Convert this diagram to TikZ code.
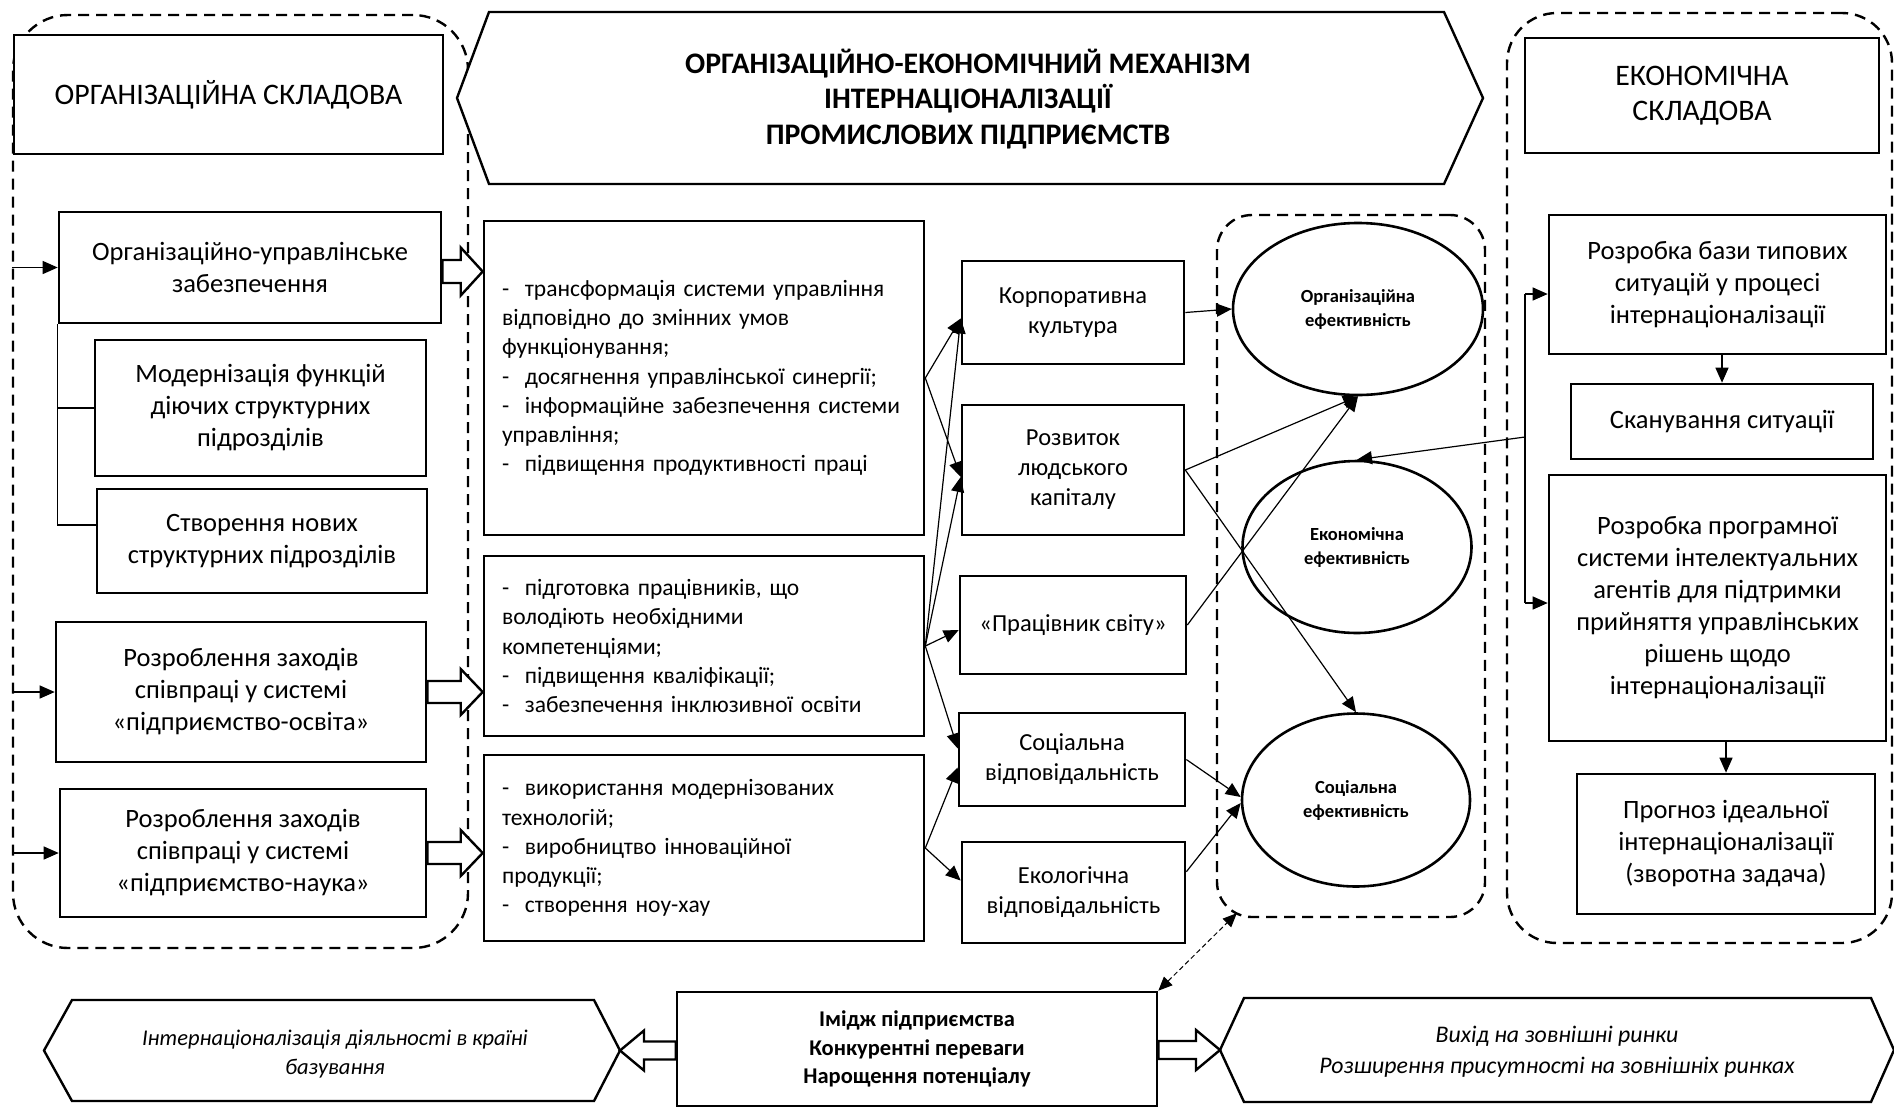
\documentclass[tikz,border=0pt]{standalone}
\usepackage{fontspec}
\setmainfont{Carlito}
\usetikzlibrary{arrows.meta,shapes.geometric,calc}

\newcommand\blockarrow[5]{%
  \draw[blockarr] let \p1=(#1), \p2=(#2), \n1={ifthenelse(\x2>\x1,1,-1)} in
    (\x1,{\y2+(#3)}) -- ({\x2-\n1*(#5)},{\y2+(#3)}) -- ({\x2-\n1*(#5)},{\y2+(#4)}) --
    (\x2,\y2) -- ({\x2-\n1*(#5)},{\y2-(#4)}) -- ({\x2-\n1*(#5)},{\y2-(#3)}) --
    (\x1,{\y2-(#3)}) -- cycle;}

\begin{document}
\begin{tikzpicture}[x=1pt,y=-1pt,
  box/.style={draw,fill=white,line width=2.6pt,inner sep=0pt,align=center,font=\fontsize{26.5}{32}\selectfont},
  headbox/.style={box,font=\fontsize{29.8}{35}\selectfont},
  listbox/.style={draw,fill=white,line width=2.6pt,inner sep=0pt,align=left,text width=404pt,font=\fontsize{23.5}{29.2}\selectfont},
  smallbox/.style={box,font=\fontsize{24.5}{30}\selectfont},
  eff/.style={draw,ellipse,line width=2.6pt,inner sep=0pt,align=center,font=\bfseries\fontsize{18.5}{24}\selectfont},
  cont/.style={draw,dash pattern=on 11pt off 7pt,line width=2.4pt,inner sep=0pt},
  conn/.style={line width=1.2pt,-{Triangle[length=15pt,width=13pt]}},
  thin/.style={line width=1.2pt},
  blockarr/.style={line width=2.4pt,fill=white,line join=miter},
  hexa/.style={draw,fill=white,line width=2.4pt,line join=miter},
  dotarr/.style={line width=1pt,dash pattern=on 5pt off 3pt,{Triangle[length=14pt,width=12pt]}-{Triangle[length=14pt,width=12pt]}},
]
\useasboundingbox[fill=white] (0,0) rectangle (1894,1109);

% dashed containers
\node[cont,rounded corners=55pt,minimum width=455pt,minimum height=933pt] (lcont) at (240.5,481.5) {};
\node[cont,rounded corners=35pt,minimum width=268pt,minimum height=702pt] (effcont) at (1351,566) {};
\node[cont,rounded corners=50pt,minimum width=385pt,minimum height=930pt] (rcont) at (1699.5,478) {};

% title hexagon
\draw[hexa] (457,98) -- (489,12) -- (1444,12) -- (1483,98) -- (1444,184) -- (489,184) -- cycle;
\node[align=center,font=\bfseries\fontsize{29.8}{35.5}\selectfont] (title) at (968,99)
  {ОРГАНІЗАЦІЙНО-ЕКОНОМІЧНИЙ МЕХАНІЗМ\\ІНТЕРНАЦІОНАЛІЗАЦІЇ\\ПРОМИСЛОВИХ ПІДПРИЄМСТВ};

% left column
\node[headbox,minimum width=429pt,minimum height=119pt] (orghead) at (228.5,94.5) {ОРГАНІЗАЦІЙНА СКЛАДОВА};
\node[box,minimum width=382pt,minimum height=111pt] (org1) at (250,267.5) {Організаційно-управлінське\\забезпечення};
\node[box,minimum width=331pt,minimum height=136pt] (mod) at (260.5,408) {Модернізація функцій\\діючих структурних\\підрозділів};
\node[box,minimum width=330pt,minimum height=104pt] (stv) at (262,541) {Створення нових\\структурних підрозділів};
\node[box,minimum width=370pt,minimum height=140pt] (osv) at (241,692) {Розроблення заходів\\співпраці у системі\\«підприємство-освіта»};
\node[box,minimum width=366pt,minimum height=128pt] (nauk) at (243,853) {Розроблення заходів\\співпраці у системі\\«підприємство-наука»};

% middle list boxes
\node[listbox,minimum width=440pt,minimum height=314pt] (A) at (704,378)
  {-~~трансформація системи управління\\відповідно до змінних умов\\функціонування;\\-~~досягнення управлінської синергії;\\-~~інформаційне забезпечення системи\\управління;\\-~~підвищення продуктивності праці};
\node[listbox,minimum width=440pt,minimum height=180pt] (B) at (704,646)
  {-~~підготовка працівників, що\\володіють необхідними\\компетенціями;\\-~~підвищення кваліфікації;\\-~~забезпечення інклюзивної освіти};
\node[listbox,minimum width=440pt,minimum height=186pt] (C) at (704,848)
  {-~~використання модернізованих\\технологій;\\-~~виробництво інноваційної\\продукції;\\-~~створення ноу-хау};

% small boxes
\node[smallbox,minimum width=222pt,minimum height=103pt] (kult) at (1073,312.5) {Корпоративна\\культура};
\node[smallbox,minimum width=222pt,minimum height=130pt] (rozv) at (1073,470) {Розвиток\\людського\\капіталу};
\node[smallbox,minimum width=226pt,minimum height=98pt] (prac) at (1073,625) {«Працівник світу»};
\node[smallbox,minimum width=226pt,minimum height=93pt] (soc) at (1072,759.5) {Соціальна\\відповідальність};
\node[smallbox,minimum width=223pt,minimum height=101pt] (eko) at (1073.5,892.5) {Екологічна\\відповідальність};

% ellipses
\node[eff,minimum width=250pt,minimum height=172pt] (eorg) at (1358,309) {Організаційна\\ефективність};
\node[eff,minimum width=229pt,minimum height=172pt] (eeco) at (1357,547) {Економічна\\ефективність};
\node[eff,minimum width=228pt,minimum height=173pt] (esoc) at (1356,800) {Соціальна\\ефективність};

% right column
\node[headbox,minimum width=354pt,minimum height=115pt] (ecohead) at (1702,95.5) {ЕКОНОМІЧНА\\СКЛАДОВА};
\node[box,minimum width=337pt,minimum height=139pt] (bazy) at (1717.5,284.5) {Розробка бази типових\\ситуацій у процесі\\інтернаціоналізації};
\node[box,minimum width=302pt,minimum height=75pt] (skan) at (1722,421.5) {Сканування ситуації};
\node[box,minimum width=337pt,minimum height=266pt] (prog) at (1717.5,608) {Розробка програмної\\системи інтелектуальних\\агентів для підтримки\\прийняття управлінських\\рішень щодо\\інтернаціоналізації};
\node[box,minimum width=298pt,minimum height=140pt] (progn) at (1726,844) {Прогноз ідеальної\\інтернаціоналізації\\(зворотна задача)};

% bottom row
\draw[hexa] (44,1050.5) -- (72,1000) -- (594,1000) -- (620,1050.5) -- (594,1101) -- (72,1101) -- cycle;
\coordinate (ltip) at (620,1050.5);
\node[align=center,font=\itshape\fontsize{22.5}{29}\selectfont] (lhex) at (335,1054) {Інтернаціоналізація діяльності в країні\\базування};
\draw[hexa] (1220,1050) -- (1244,998) -- (1871,998) -- (1894,1050) -- (1871,1102) -- (1244,1102) -- cycle;
\coordinate (rtip) at (1220,1050);
\node[align=center,font=\itshape\fontsize{23.8}{31}\selectfont] (rhex) at (1557,1052) {Вихід на зовнішні ринки\\Розширення присутності на зовнішніх ринках};
\node[box,minimum width=480pt,minimum height=114pt,font=\bfseries\fontsize{22.5}{28.5}\selectfont] (midbox) at (917,1049) {Імідж підприємства\\Конкурентні переваги\\Нарощення потенціалу};

% block arrows
\blockarrow{[yshift=-4pt]org1.east}{[yshift=-4pt]org1.east -| A.west}{11.5pt}{24pt}{22pt}
\blockarrow{osv.east}{osv.east -| B.west}{11pt}{23pt}{22pt}
\blockarrow{nauk.east}{nauk.east -| C.west}{11pt}{23pt}{22pt}
\blockarrow{midbox.west}{ltip}{9pt}{20pt}{24pt}
\blockarrow{midbox.east}{rtip}{9pt}{20pt}{24pt}

% left connectors
\draw[conn] (lcont.west |- org1.west) -- (org1.west);
\draw[conn] (lcont.west |- osv.west) -- (osv.west);
\draw[conn] (lcont.west |- nauk.west) -- (nauk.west);
\coordinate (stvb) at ($(stv.north west)!0.35!(stv.south west)$);
\draw[thin] (org1.south west) -- (org1.south west |- stvb) -- (stvb);
\draw[thin] (org1.south west |- mod.west) -- (mod.west);

% middle connectors
\coordinate (tkult) at ($(kult.west)+(0,6)$);
\coordinate (trozv) at ($(rozv.west)+(0,7)$);
\coordinate (tprac) at ($(prac.west)+(0,5)$);
\coordinate (tsoc1) at ($(soc.west)+(0,-11)$);
\coordinate (tsoc2) at ($(soc.west)+(0,8)$);
\coordinate (teko) at ($(eko.west)+(0,-12)$);
\draw[conn] (A.east) -- (tkult);
\draw[conn] (A.east) -- (trozv);
\draw[conn] (B.east) -- (tkult);
\draw[conn] (B.east) -- (trozv);
\draw[conn] (B.east) -- (tprac);
\draw[conn] (B.east) -- (tsoc1);
\draw[conn] (C.east) -- (tsoc2);
\draw[conn] (C.east) -- (teko);

% to ellipses
\coordinate (ekos) at ($(eko.north east)!0.3!(eko.south east)$);
\draw[conn] (kult.east) -- (eorg.west);
\draw[conn] (rozv.east) -- (eorg.south);
\draw[conn] (prac.east) -- (eorg.south);
\draw[conn] (rozv.east) -- (esoc.north);
\draw[conn] (soc.east) -- ($(esoc.west)+(0,-3)$);
\draw[conn] (ekos) -- ($(esoc.west)+(0,3)$);

% right connectors
\coordinate (vtop) at (1525,294);
\coordinate (vbot) at (1525,603);
\coordinate (veco) at (1525,437);
\draw[thin] (vtop) -- (vbot);
\draw[conn] (vtop) -- (vtop -| bazy.west);
\draw[conn] (vbot) -- (vbot -| prog.west);
\draw[conn] (veco) -- (eeco.north);
\draw[conn] (bazy.south -| skan.north) -- (skan.north);
\draw[conn] (prog.south -| progn.north) -- (progn.north);

% dotted link
\coordinate (dtip) at ($(effcont.south west)+(21,-5)$);
\draw[dotarr] (midbox.north east) -- (dtip);
\end{tikzpicture}
\end{document}
